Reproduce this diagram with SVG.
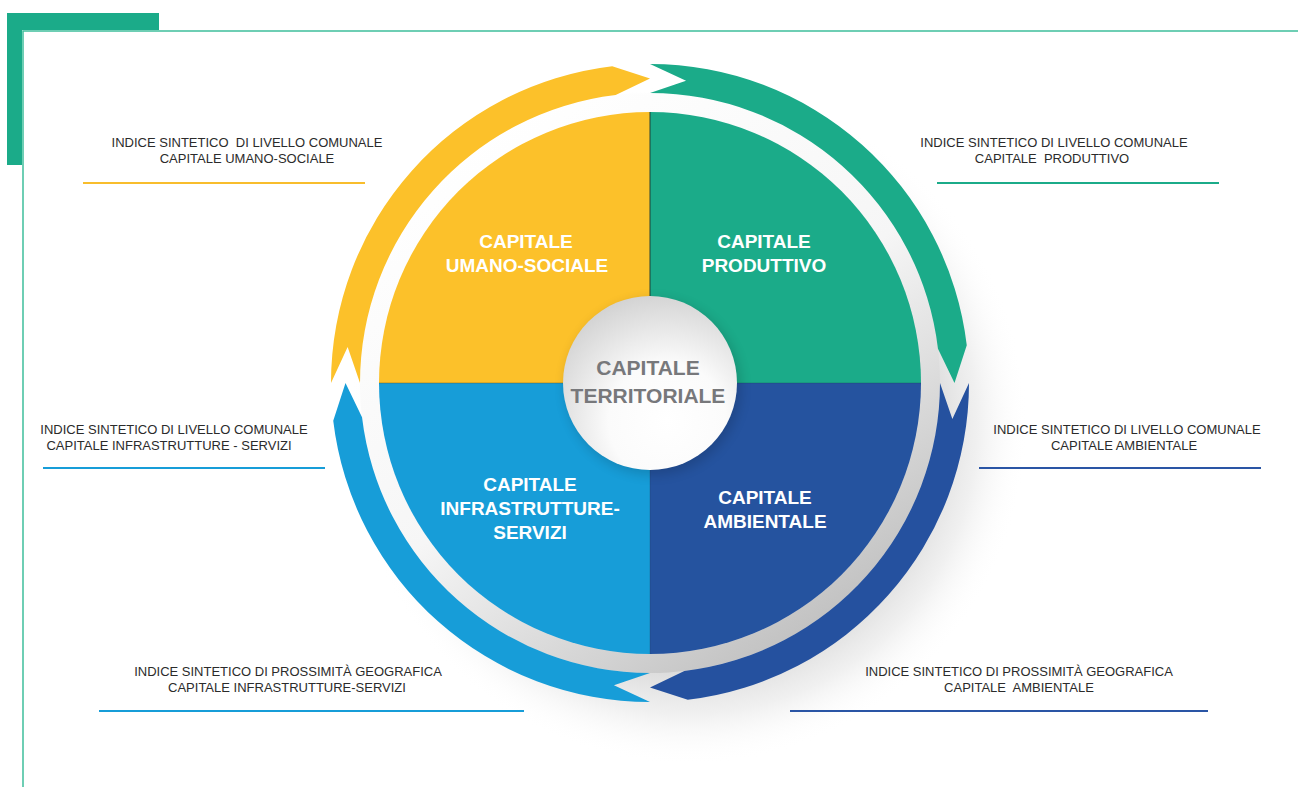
<svg xmlns="http://www.w3.org/2000/svg" width="1298" height="787" viewBox="0 0 1298 787">
  <defs>
    <style>
      .side { font-family: "Liberation Sans", Arial, sans-serif; font-size: 13px; fill: #2b2b2b; text-anchor: middle; white-space: pre; }
      .quad { font-family: "Liberation Sans", Arial, sans-serif; font-size: 19px; font-weight: bold; fill: #ffffff; text-anchor: middle; }
      .center { font-family: "Liberation Sans", Arial, sans-serif; font-size: 21px; font-weight: bold; fill: #77787b; text-anchor: middle; }
      .rule { stroke-width: 2; fill: none; }
    </style>
    <radialGradient id="bigShadow" cx="688" cy="425" r="340" gradientUnits="userSpaceOnUse">
      <stop offset="0.7" stop-color="#b5b5b5" stop-opacity="0.55"/>
      <stop offset="0.85" stop-color="#d4d4d4" stop-opacity="0.35"/>
      <stop offset="1" stop-color="#ffffff" stop-opacity="0"/>
    </radialGradient>
    <linearGradient id="ringGrad" x1="0.15" y1="0.1" x2="0.75" y2="1">
      <stop offset="0" stop-color="#ffffff"/>
      <stop offset="0.5" stop-color="#f6f6f6"/>
      <stop offset="1" stop-color="#bdbdbd"/>
    </linearGradient>
    <radialGradient id="centerGrad" cx="0.6" cy="0.72" r="0.75">
      <stop offset="0" stop-color="#ffffff"/>
      <stop offset="0.45" stop-color="#fbfbfb"/>
      <stop offset="1" stop-color="#d2d2d2"/>
    </radialGradient>
    <filter id="soft" x="-30%" y="-30%" width="160%" height="160%">
      <feGaussianBlur stdDeviation="6"/>
    </filter>
  </defs>

  <g id="frame">
    <polygon points="7,13 159,13 159,30 22,30 22,165 7,165" fill="#1bab89"/>
    <polyline points="1298,31 23,31 23,787" fill="none" stroke="#3fbf9c" stroke-width="1.5"/>
  </g>

  <g id="shadow">
    <circle cx="688" cy="425" r="340" fill="url(#bigShadow)"/>
  </g>

  <g id="ring">
    <path d="M650,93 A290,290 0 1 1 649.9,93 Z M650,112 A271,271 0 1 0 650.1,112 Z" fill="url(#ringGrad)" fill-rule="evenodd"/>
  </g>

  <g id="connectors">
    <path id="arrow-green" d="M650,64 A319,319 0 0 1 966.76,345.23 L954.5,383 L937.96,348.66 A290,290 0 0 0 650,93 L686.05,80.64 Z" fill="#1bab89"/>
    <path id="arrow-navy" d="M969,383 A319,319 0 0 1 687.77,699.76 L650,687.5 L684.34,670.96 A290,290 0 0 0 940,383 L952.36,419.05 Z" fill="#25519f"/>
    <path id="arrow-blue" d="M650,702 A319,319 0 0 1 333.24,420.77 L345.5,383 L362.04,417.34 A290,290 0 0 0 650,673 L613.95,685.36 Z" fill="#179dd8"/>
    <path id="arrow-yellow" d="M331,383 A319,319 0 0 1 612.23,66.24 L650,78.5 L615.66,95.04 A290,290 0 0 0 360,383 L347.64,346.95 Z" fill="#fcc12a"/>
  </g>

  <g id="node-umano-sociale">
    <path d="M650,383 L379,383 A271,271 0 0 1 650,112 Z" fill="#fcc12a"/>
    <text class="quad" x="526" y="248">CAPITALE</text>
    <text class="quad" x="527" y="272">UMANO-SOCIALE</text>
  </g>
  <g id="node-produttivo">
    <path d="M650,383 L650,112 A271,271 0 0 1 921,383 Z" fill="#1bab89"/>
    <text class="quad" x="764" y="248">CAPITALE</text>
    <text class="quad" x="764" y="272">PRODUTTIVO</text>
  </g>
  <g id="node-ambientale">
    <path d="M650,383 L921,383 A271,271 0 0 1 650,654 Z" fill="#25539f"/>
    <text class="quad" x="765" y="504">CAPITALE</text>
    <text class="quad" x="765" y="528">AMBIENTALE</text>
  </g>
  <g id="node-infrastrutture">
    <path d="M650,383 L650,654 A271,271 0 0 1 379,383 Z" fill="#179dd8"/>
    <text class="quad" x="530" y="491">CAPITALE</text>
    <text class="quad" x="530" y="515">INFRASTRUTTURE-</text>
    <text class="quad" x="530" y="539">SERVIZI</text>
  </g>

  <g id="dividers">
    <line x1="650" y1="112" x2="650" y2="300" stroke="#1f3b33" stroke-width="1.2" stroke-opacity="0.8"/>
    <line x1="379" y1="383" x2="565" y2="383" stroke="#5a4a20" stroke-width="1" stroke-opacity="0.4"/>
    <line x1="735" y1="383" x2="921" y2="383" stroke="#1a3a50" stroke-width="1" stroke-opacity="0.3"/>
    <line x1="650" y1="470" x2="650" y2="654" stroke="#1a3a50" stroke-width="1" stroke-opacity="0.25"/>
  </g>

  <g id="node-territoriale">
    <circle cx="653" cy="387" r="88" fill="#000" opacity="0.15" filter="url(#soft)"/>
    <circle cx="650" cy="383" r="87" fill="url(#centerGrad)"/>
    <text class="center" x="648" y="375">CAPITALE</text>
    <text class="center" x="648" y="403">TERRITORIALE</text>
  </g>

  <g id="label-umano-sociale">
    <text class="side" x="247" y="147" xml:space="preserve">INDICE SINTETICO  DI LIVELLO COMUNALE</text>
    <text class="side" x="247" y="163">CAPITALE UMANO-SOCIALE</text>
    <line class="rule" x1="83" y1="183" x2="365" y2="183" stroke="#f8bd2c"/>
  </g>
  <g id="label-produttivo">
    <text class="side" x="1054" y="147">INDICE SINTETICO DI LIVELLO COMUNALE</text>
    <text class="side" x="1052" y="163" xml:space="preserve">CAPITALE  PRODUTTIVO</text>
    <line class="rule" x1="937" y1="183" x2="1219" y2="183" stroke="#1bab89"/>
  </g>
  <g id="label-infrastrutture">
    <text class="side" x="174" y="434">INDICE SINTETICO DI LIVELLO COMUNALE</text>
    <text class="side" x="169" y="450">CAPITALE INFRASTRUTTURE - SERVIZI</text>
    <line class="rule" x1="43" y1="468" x2="325" y2="468" stroke="#179dd8"/>
  </g>
  <g id="label-ambientale">
    <text class="side" x="1127" y="434">INDICE SINTETICO DI LIVELLO COMUNALE</text>
    <text class="side" x="1124" y="450">CAPITALE AMBIENTALE</text>
    <line class="rule" x1="979" y1="468" x2="1261" y2="468" stroke="#2a55a5"/>
  </g>
  <g id="label-prossimita-infrastrutture">
    <text class="side" x="288" y="676">INDICE SINTETICO DI PROSSIMITÀ GEOGRAFICA</text>
    <text class="side" x="287" y="692">CAPITALE INFRASTRUTTURE-SERVIZI</text>
    <line class="rule" x1="99" y1="711" x2="524" y2="711" stroke="#179dd8"/>
  </g>
  <g id="label-prossimita-ambientale">
    <text class="side" x="1019" y="676">INDICE SINTETICO DI PROSSIMITÀ GEOGRAFICA</text>
    <text class="side" x="1019" y="692" xml:space="preserve">CAPITALE  AMBIENTALE</text>
    <line class="rule" x1="790" y1="711" x2="1208" y2="711" stroke="#2a55a5"/>
  </g>
</svg>
